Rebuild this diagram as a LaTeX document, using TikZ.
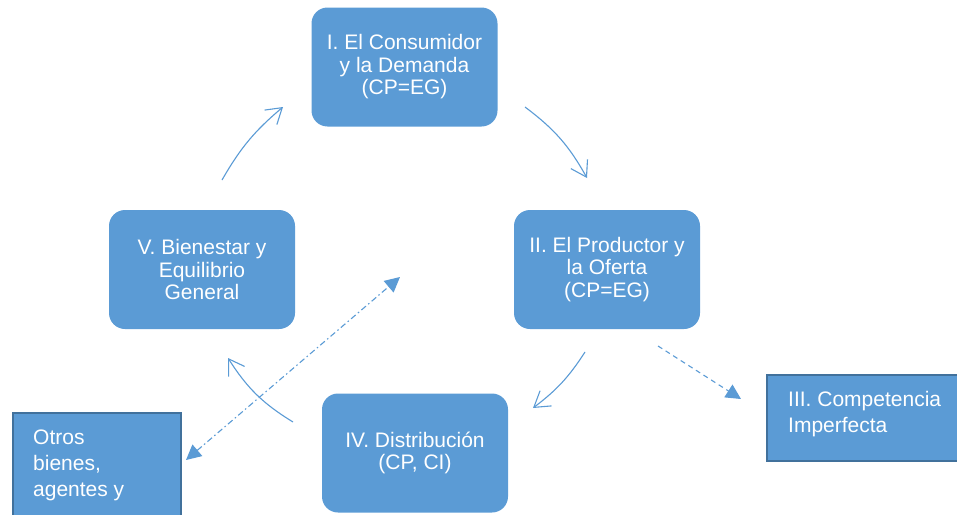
\documentclass[tikz,border=0pt]{standalone}
\usepackage{fontspec}
\setmainfont{Liberation Sans}
\usetikzlibrary{arrows.meta}
\definecolor{boxblue}{HTML}{5B9BD5}
\definecolor{edgeblue}{HTML}{41719C}
\begin{document}
\begin{tikzpicture}[x=1pt,y=1pt,
  rbox/.style={fill=boxblue, draw=none, rounded corners=16pt, minimum width=186pt, minimum height=119pt, inner sep=0pt, align=center, text=white, font=\fontsize{21}{22.5}\selectfont},
  sbox/.style={fill=boxblue, draw=edgeblue, line width=1.5pt, inner sep=0pt, anchor=north west},
  lbl/.style={text=white, anchor=base west, inner sep=0pt, font=\fontsize{21}{25}\selectfont},
  flow/.style={draw=boxblue, line width=1.1pt, -{Straight Barb[length=15pt,width=19pt,line width=1.1pt]}},
  dashlink/.style={draw=boxblue, line width=1.1pt, dash pattern=on 5pt off 4pt, -{Triangle[length=15pt,width=15pt]}},
  dotlink/.style={draw=boxblue, line width=1.1pt, dash pattern=on 6pt off 3pt on 1.5pt off 3pt, {Triangle[length=15pt,width=15pt]}-{Triangle[length=15pt,width=15pt]}}
]
\useasboundingbox (0,0) rectangle (957,-514);

\node[rbox] (c1) at (404.5,-67) {I. El Consumidor\\y la Demanda\\(CP=EG)};
\node[rbox] (c2) at (607,-269.5) {II. El Productor y\\la Oferta\\(CP=EG)};
\node[rbox] (c5) at (202,-269.5) {V. Bienestar y\\Equilibrio\\General};
\node[rbox] (c4) at (415,-453) {IV. Distribución\\(CP, CI)};

\node[sbox, minimum width=210pt, minimum height=86pt] (c3) at (766,-374) {};
\node[lbl] (t3a) at (788,-406) {III. Competencia};
\node[lbl] (t3b) at (788,-432) {Imperfecta};

\node[sbox, minimum width=168pt, minimum height=120pt] (ot) at (12,-412) {};
\node[lbl] (ota) at (33,-444) {Otros};
\node[lbl] (otb) at (33,-470) {bienes,};
\node[lbl] (otc) at (33,-496) {agentes y};

\coordinate (a1s) at (222,-180);
\coordinate (a1e) at (283,-107);
\coordinate (a2s) at (525,-107);
\coordinate (a2e) at (587,-178);
\coordinate (a3s) at (585,-352);
\coordinate (a3e) at (533,-408);
\coordinate (a4s) at (293,-422);
\coordinate (a4e) at (228,-358);
\coordinate (d1s) at (658,-346);
\coordinate (d1e) at (741,-399);
\coordinate (e1) at (186,-460);
\coordinate (e2) at (400,-277);

\draw[flow] (a1s) to[bend left=10] (a1e);
\draw[flow] (a2s) to[bend left=12] (a2e);
\draw[flow] (a3s) to[bend left=10] (a3e);
\draw[flow] (a4s) to[bend left=13] (a4e);
\draw[dashlink] (d1s) -- (d1e);
\draw[dotlink] (e1) -- (e2);
\end{tikzpicture}
\end{document}
